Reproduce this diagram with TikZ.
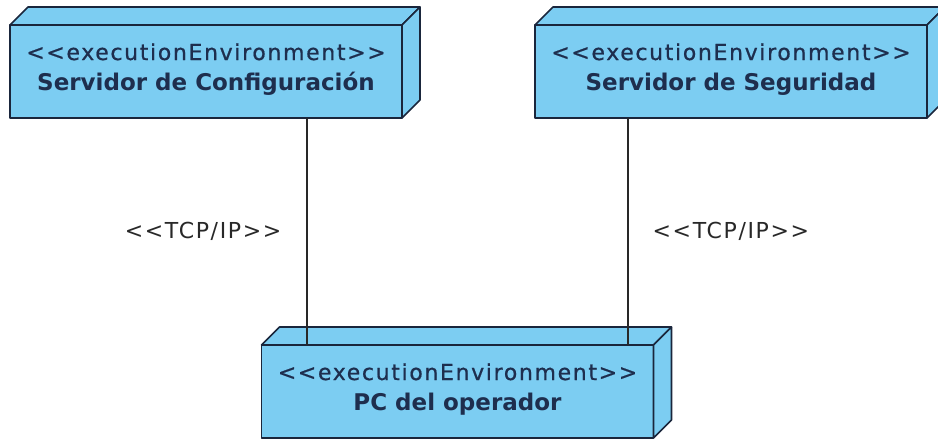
\documentclass[tikz,border=0pt]{standalone}
\usepackage{fontspec}
\setmainfont{DejaVu Sans}
\newfontfamily\stereofont[LetterSpace=7.5,FakeBold=0.7]{DejaVu Sans}
\newfontfamily\linkfont[LetterSpace=7.5]{DejaVu Sans}
\usetikzlibrary{calc}

\definecolor{nodefill}{RGB}{124,205,242}
\definecolor{nodeedge}{RGB}{26,38,60}
\definecolor{nodetext}{RGB}{30,46,78}
\definecolor{linkcol}{RGB}{40,40,40}

\tikzset{
  front/.style={draw=nodeedge, fill=nodefill, line width=1.6pt, line join=round,
    minimum width=392pt, minimum height=93pt, inner sep=0pt, outer sep=0pt},
  face/.style={draw=nodeedge, fill=nodefill, line width=1.6pt, line join=round},
  stereo/.style={anchor=base, text=nodetext, inner sep=0pt,
    font=\stereofont\fontsize{22}{26}\selectfont},
  envname/.style={anchor=base, text=nodetext, inner sep=0pt,
    font=\bfseries\fontsize{23}{27}\selectfont},
  link/.style={draw=linkcol, line width=1.3pt},
  linklabel/.style={text=linkcol, inner sep=0pt,
    font=\linkfont\fontsize{22}{26}\selectfont}
}

% front face node plus the top and right faces of the 3-D node box
\newcommand\envbox[3]{%
  \node[front] (#1) at (#2,#3) {};
  \draw[face] (#1.north west) -- ++(18,-18) -- ++(392,0) -- (#1.north east) -- cycle;
  \draw[face] (#1.north east) -- ++(18,-18) -- ++(0,93) -- (#1.south east) -- cycle;
}

\begin{document}
\begin{tikzpicture}[x=1pt,y=-1pt]
\useasboundingbox (0,0) rectangle (938,440);
\clip (0,0) rectangle (938,440);

\envbox{conf}{206}{71.5}
\envbox{sec}{731}{71.5}
\envbox{pc}{457.5}{391.5}

\node[stereo]  (conf-st) at ($(conf.north)+(0,35)$) {<<executionEnvironment>>};
\node[envname] (conf-nm) at ($(conf.north)+(0,65.5)$) {Servidor de Configuración};
\node[stereo]  (sec-st)  at ($(sec.north)+(0,35)$) {<<executionEnvironment>>};
\node[envname] (sec-nm)  at ($(sec.north)+(0,65.5)$) {Servidor de Seguridad};
\node[stereo]  (pc-st)   at ($(pc.north)+(0,35)$) {<<executionEnvironment>>};
\node[envname] (pc-nm)   at ($(pc.north)+(0,65.5)$) {PC del operador};

% communication paths
\coordinate (c1) at ($(conf.south west)+(297,0)$);
\coordinate (c2) at ($(sec.south west)+(93,0)$);
\draw[link] (c1) -- (c1 |- pc.north)
  node[linklabel, midway, left=25pt] (tcp1) {<<TCP/IP>>};
\draw[link] (c2) -- (c2 |- pc.north)
  node[linklabel, midway, right=24pt] (tcp2) {<<TCP/IP>>};
\end{tikzpicture}
\end{document}
